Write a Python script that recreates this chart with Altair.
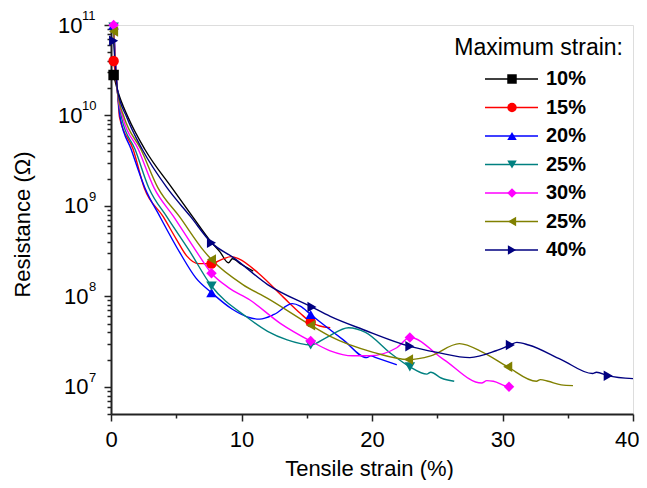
import altair as alt
import pandas as pd

# ---------------- data ----------------
series_ids = ["s10", "s15", "s20", "s25", "s30", "s35", "s40"]
series_labels = ["10%", "15%", "20%", "25%", "30%", "25%", "40%"]
series_colors = ["#000000", "#FF0000", "#0000FF", "#008080", "#FF00FF", "#808000", "#000080"]
series_shapes = ["square", "circle", "triangle-up", "triangle-down", "diamond", "triangle-left", "triangle-right"]

x10 = [0.2, 0.5, 1.3, 2.6, 4.67, 6.25, 7.7, 8.35, 9.0, 9.3, 10.0, 10.9]
y10 = [2.8e10, 1.9e10, 9.6e9, 4.2e9, 1.58e9, 7.6e8, 3.95e8, 3.1e8, 2.35e8, 2.6e8, 2.25e8, 1.9e8]
m10 = [0.2]

x15 = [0.2, 0.5, 0.65, 1.7, 2.55, 4.0, 5.0, 5.8, 6.7, 7.7, 8.6, 9.2, 9.8, 11.3, 13.2, 14.5, 15.3, 16.0, 16.8]
y15 = [4.0e10, 1.8e10, 9.6e9, 4.2e9, 1.58e9, 7.6e8, 4.3e8, 2.8e8, 2.3e8, 2.3e8, 2.6e8, 2.75e8, 2.6e8, 1.8e8, 9.8e7, 6.5e7, 5.2e7, 4.7e7, 4.5e7]
m15 = [0.2, 7.7, 15.3]

x20 = [0.2, 0.5, 0.7, 1.55, 2.6, 3.75, 5.3, 6.5, 7.7, 9.3, 10.65, 11.4, 12.5, 13.9, 14.5, 15.3, 17.8, 19.6, 19.9, 20.3, 21.9]
y20 = [1.0e11, 1.8e10, 9.6e9, 4.2e9, 1.58e9, 7.6e8, 3.0e8, 1.6e8, 1.1e8, 7.2e7, 5.8e7, 5.6e7, 6.3e7, 8.3e7, 7.8e7, 6.3e7, 3.3e7, 2.1e7, 2.2e7, 2.1e7, 1.75e7]
m20 = [0.2, 7.7, 15.3]

x25 = [0.2, 0.5, 0.8, 1.85, 2.9, 4.27, 6.0, 7.7, 10.4, 12.0, 13.5, 15.3, 16.5, 18.2, 19.5, 21.5, 22.9, 24.2, 24.5, 25.3, 26.3]
y25 = [9.5e10, 1.8e10, 9.6e9, 4.2e9, 1.58e9, 7.6e8, 3.2e8, 1.3e8, 5.9e7, 4.1e7, 3.3e7, 2.9e7, 3.5e7, 4.5e7, 4.0e7, 2.3e7, 1.66e7, 1.38e7, 1.45e7, 1.25e7, 1.15e7]
m25 = [0.2, 7.7, 15.3, 22.9]

x30 = [0.2, 0.5, 0.9, 2.1, 3.3, 4.8, 6.5, 7.7, 9.0, 10.65, 13.0, 15.3, 16.8, 18.5, 19.8, 21.9, 22.9, 25.5, 28.4, 28.8, 29.3, 30.5, 30.8]
y30 = [1.0e11, 1.8e10, 9.6e9, 4.2e9, 1.58e9, 7.6e8, 3.2e8, 1.8e8, 1.25e8, 9.1e7, 5.0e7, 3.2e7, 2.5e7, 2.2e7, 2.2e7, 2.7e7, 3.5e7, 2.0e7, 1.1e7, 1.17e7, 1.15e7, 1.0e7, 1.0e7]
m30 = [0.2, 7.7, 15.3, 22.9, 30.5]

x35 = [0.2, 0.5, 1.0, 2.3, 3.6, 5.25, 7.1, 7.7, 10.1, 12.0, 15.3, 16.8, 20.1, 22.8, 24.5, 26.7, 28.5, 30.4, 32.6, 32.9, 33.5, 34.5, 35.4]
y35 = [8.5e10, 1.8e10, 9.6e9, 4.2e9, 1.58e9, 7.6e8, 3.2e8, 2.55e8, 1.35e8, 9.5e7, 4.8e7, 3.6e7, 2.4e7, 2.0e7, 2.2e7, 3.0e7, 2.4e7, 1.66e7, 1.15e7, 1.2e7, 1.15e7, 1.05e7, 1.03e7]
m35 = [0.2, 7.7, 15.3, 22.8, 30.4]

x40 = [0.2, 0.5, 1.2, 2.4, 4.3, 6.1, 7.7, 9.35, 12.0, 15.4, 16.8, 19.3, 22.9, 25.0, 27.5, 29.5, 30.6, 31.1, 32.0, 34.5, 36.9, 37.2, 38.1, 40.0]
y40 = [6.7e10, 1.9e10, 9.6e9, 4.2e9, 1.58e9, 7.6e8, 3.9e8, 2.7e8, 1.35e8, 7.6e7, 6.0e7, 4.3e7, 2.8e7, 2.4e7, 2.1e7, 2.5e7, 2.9e7, 3.1e7, 2.9e7, 2.0e7, 1.4e7, 1.45e7, 1.32e7, 1.23e7]
m40 = [0.2, 7.7, 15.4, 22.9, 30.6, 38.1]

x_ticks = [0, 5, 10, 15, 20, 25, 30, 35, 40]
y_major = [1e7, 1e8, 1e9, 1e10, 1e11]
y_exponents = ["7", "8", "9", "10", "11"]
y_ticks = [k * 10.0 ** n for n in range(6, 11) for k in range(1, 10) if k * 10.0 ** n >= 5e6] + [1e11]

# ---------------- tables ----------------
all_x = [x10, x15, x20, x25, x30, x35, x40]
all_y = [y10, y15, y20, y25, y30, y35, y40]
all_m = [m10, m15, m20, m25, m30, m35, m40]

rows = []
for sid, xs, ys, ms in zip(series_ids, all_x, all_y, all_m):
    for i, (xv, yv) in enumerate(zip(xs, ys)):
        rows.append({"series": sid, "strain": xv, "res": yv, "idx": i, "marker": xv in ms})
df = pd.DataFrame(rows)
df_markers = df[df["marker"]].copy()

legend_df = pd.DataFrame({"series": series_ids, "label": series_labels, "row": list(range(len(series_ids)))})
exp_df = pd.DataFrame({"value": y_major, "exp": y_exponents})

FONT = "Liberation Sans"

color_scale = alt.Scale(domain=series_ids, range=series_colors)
shape_scale = alt.Scale(domain=series_ids, range=series_shapes)
x_scale = alt.Scale(domain=[0, 40], nice=False, zero=False)
y_scale = alt.Scale(type="log", domain=[5e6, 1e11], nice=False)

POW = "abs(log(datum.value)/LN10 - round(log(datum.value)/LN10)) < 0.001"

x_axis = alt.Axis(
    values=x_ticks,
    labelExpr="datum.value % 10 === 0 ? datum.label : ''",
    tickSize={"condition": {"test": "datum.value % 10 === 0", "value": 7}, "value": 4},
    labelPadding=8,
    labelFontSize=22,
    labelFont=FONT,
    labelColor="#000",
    labelOverlap=False,
    labelFlush=True,
    labelFlushOffset=6,
    title="Tensile strain (%)",
    titleFontSize=22,
    titleFont=FONT,
    titleFontWeight="normal",
    titleColor="#000",
    titleX=258,
    titleY=61,
    titleBaseline="alphabetic",
    grid=False,
    domainColor="#222",
    domainWidth=2,
    tickColor="#222",
    tickWidth=1.5,
)

y_axis = alt.Axis(
    values=y_ticks,
    labelExpr=f"({POW}) ? '10' : ''",
    tickSize={"condition": {"test": POW, "value": 7}, "value": 4},
    labelPadding={"condition": {"test": "datum.value >= 5e9", "value": 22}, "value": 16},
    labelAlign="right",
    labelBaseline="middle",
    labelFontSize=22,
    labelFont=FONT,
    labelColor="#000",
    labelOverlap=False,
    labelFlush=False,
    title="Resistance (\u03a9)",
    titleFontSize=22,
    titleFont=FONT,
    titleFontWeight="normal",
    titleColor="#000",
    titleAngle=270,
    titleX=-82,
    titleY=199,
    titleAlign="center",
    titleBaseline="alphabetic",
    grid=False,
    domainColor="#222",
    domainWidth=2,
    tickColor="#222",
    tickWidth=1.5,
)

lines = alt.Chart(df).mark_line(strokeWidth=1.4, interpolate="monotone").encode(
    x=alt.X("strain:Q", scale=x_scale, axis=x_axis),
    y=alt.Y("res:Q", scale=y_scale, axis=y_axis),
    color=alt.Color("series:N", scale=color_scale, legend=None),
    detail="series:N",
    order="idx:Q",
)

markers = alt.Chart(df_markers).mark_point(filled=True, opacity=1, size=110).encode(
    x=alt.X("strain:Q", scale=x_scale, axis=x_axis),
    y=alt.Y("res:Q", scale=y_scale, axis=y_axis),
    color=alt.Color("series:N", scale=color_scale, legend=None),
    shape=alt.Shape("series:N", scale=shape_scale, legend=None),
)

exp_single = alt.Chart(exp_df).transform_filter("length(datum.exp) == 1").mark_text(
    align="left", baseline="middle", dy=-9, fontSize=13, font=FONT, color="#000"
).encode(
    x=alt.value(-22),
    y=alt.Y("value:Q", scale=y_scale, axis=y_axis),
    text="exp:N",
)
exp_double = alt.Chart(exp_df).transform_filter("length(datum.exp) == 2").mark_text(
    align="left", baseline="middle", dy=-9, fontSize=13, font=FONT, color="#000"
).encode(
    x=alt.value(-29),
    y=alt.Y("value:Q", scale=y_scale, axis=y_axis),
    text="exp:N",
)

leg_base = alt.Chart(legend_df).transform_calculate(py="54 + 28.5 * datum.row")
leg_y = alt.Y("py:Q", scale=None, axis=None)

leg_rule = leg_base.mark_rule(strokeWidth=1.5).encode(
    x=alt.value(374), x2=alt.value(427), y=leg_y,
    color=alt.Color("series:N", scale=color_scale, legend=None),
)
leg_pt = leg_base.mark_point(filled=True, opacity=1, size=90).encode(
    x=alt.value(401), y=leg_y,
    color=alt.Color("series:N", scale=color_scale, legend=None),
    shape=alt.Shape("series:N", scale=shape_scale, legend=None),
)
leg_txt = leg_base.mark_text(
    align="left", baseline="middle", fontSize=20, fontWeight="bold", font=FONT, color="#000"
).encode(x=alt.value(435), y=leg_y, text="label:N")

leg_title = alt.Chart(pd.DataFrame({"t": ["Maximum strain:"]})).mark_text(
    align="right", baseline="middle", fontSize=23, font=FONT, color="#000"
).encode(x=alt.value(512), y=alt.value(23), text="t:N")

chart = alt.layer(
    lines, markers, exp_single, exp_double, leg_rule, leg_pt, leg_txt, leg_title
).properties(
    width=522,
    height=389,
    padding={"left": 103, "top": 17, "right": 6, "bottom": 66},
    autosize=alt.AutoSizeParams(type="none"),
    background="white",
).configure_view(
    stroke="#222", strokeWidth=2
).configure(font=FONT)

chart.save("out.html", embed_options={"renderer": "svg", "actions": False})
